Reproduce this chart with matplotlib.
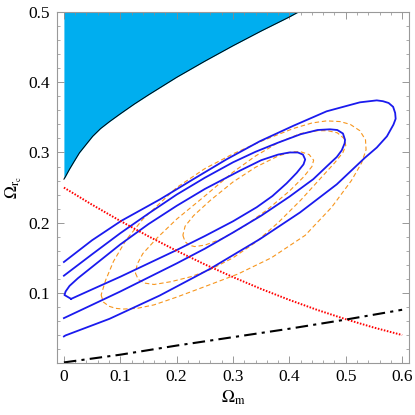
import numpy as np
import matplotlib
matplotlib.use("Agg")
import matplotlib.pyplot as plt
from matplotlib.ticker import MultipleLocator

plt.rcParams["font.family"] = ["Liberation Serif", "DejaVu Serif"]
plt.rcParams["mathtext.fontset"] = "stix"

# excluded region (upper left), boundary
excl_x = [0.0, 0.003, 0.0098, 0.018, 0.0276, 0.04, 0.051, 0.065, 0.081, 0.1, 0.125, 0.15, 0.2, 0.25,
          0.3, 0.35, 0.4, 0.416]
excl_y = [0.262, 0.266, 0.276, 0.287, 0.2996, 0.312, 0.323, 0.334, 0.344, 0.355, 0.369, 0.382, 0.407, 0.430,
          0.452, 0.473, 0.493, 0.500]

# solid blue confidence contours (outer, middle, inner)
c1_x = [0.0, 0.0027, 0.0809, 0.1698, 0.2587, 0.3476, 0.4187, 0.484, 0.534, 0.555, 0.573, 0.5846, 0.5885,
        0.5876, 0.584, 0.576, 0.566, 0.555, 0.525, 0.466, 0.407, 0.3476, 0.288, 0.229, 0.170, 0.1017, 0.05, 0.0]
c1_y = [0.038, 0.0394, 0.0631, 0.0962, 0.134, 0.1766, 0.2145, 0.2546, 0.2925, 0.307, 0.323, 0.3397, 0.348,
        0.3563, 0.365, 0.3705, 0.373, 0.3742, 0.3714, 0.3586, 0.338, 0.316, 0.290, 0.2617, 0.233, 0.2026, 0.175, 0.144]

c2_x = [0.0, 0.05, 0.1, 0.15, 0.2, 0.25, 0.3, 0.35, 0.4, 0.4424, 0.47, 0.484, 0.4928, 0.498, 0.4987,
        0.495, 0.485, 0.472, 0.45, 0.42, 0.38, 0.34, 0.3, 0.25, 0.2, 0.15, 0.1, 0.05, 0.0]
c2_y = [0.0641, 0.083, 0.102, 0.122, 0.142, 0.163, 0.186, 0.21, 0.237, 0.262, 0.283, 0.2935, 0.303, 0.313, 0.318,
        0.327, 0.332, 0.333, 0.332, 0.326, 0.314, 0.301, 0.286, 0.264, 0.240, 0.213, 0.185, 0.155, 0.1245]

c3_x = [0.0128, 0.05, 0.1, 0.15, 0.2, 0.25, 0.3, 0.342, 0.37, 0.395, 0.413, 0.425, 0.428, 0.424, 0.415,
        0.4, 0.38, 0.35, 0.312, 0.25, 0.2, 0.15, 0.1, 0.05, 0.025, 0.01, 0.003, 0.001, 0.0128]
c3_y = [0.0915, 0.105, 0.123, 0.142, 0.161, 0.181, 0.202, 0.222, 0.238, 0.256, 0.271, 0.283, 0.29, 0.297, 0.3,
        0.3, 0.297, 0.289, 0.274, 0.248, 0.224, 0.198, 0.169, 0.137, 0.121, 0.11, 0.102, 0.097, 0.0915]

# dashed orange contours (outer, middle, inner)
e1_x = [0.066, 0.07, 0.08, 0.092, 0.105, 0.13, 0.16, 0.2, 0.25, 0.309, 0.368, 0.428, 0.475, 0.51, 0.528,
        0.536, 0.535, 0.525, 0.508, 0.49, 0.466, 0.44, 0.4066, 0.35, 0.3, 0.25, 0.2, 0.14, 0.11, 0.088,
        0.074, 0.066]
e1_y = [0.097, 0.087, 0.081, 0.078, 0.077, 0.078, 0.083, 0.094, 0.109, 0.127, 0.150, 0.182, 0.222, 0.26, 0.285,
        0.304, 0.318, 0.331, 0.34, 0.344, 0.345, 0.342, 0.334, 0.316, 0.298, 0.277, 0.25, 0.205, 0.175, 0.145,
        0.118, 0.097]

e2_x = [0.127, 0.132, 0.143, 0.16, 0.19, 0.225, 0.259, 0.3, 0.34, 0.38, 0.42, 0.455, 0.48, 0.495, 0.5,
        0.497, 0.485, 0.468, 0.45, 0.42, 0.38, 0.34, 0.3, 0.253, 0.2, 0.165, 0.14, 0.13, 0.127]
e2_y = [0.128, 0.119, 0.114, 0.112, 0.116, 0.123, 0.133, 0.15, 0.172, 0.2, 0.232, 0.263, 0.285, 0.3, 0.31,
        0.32, 0.328, 0.331, 0.331, 0.327, 0.314, 0.295, 0.272, 0.24, 0.205, 0.178, 0.156, 0.141, 0.128]

e3_x = [0.211, 0.215, 0.222, 0.232, 0.25, 0.28, 0.32, 0.36, 0.4, 0.425, 0.44, 0.443, 0.435, 0.42, 0.405,
        0.38, 0.34, 0.3, 0.26, 0.23, 0.215, 0.211]
e3_y = [0.182, 0.173, 0.168, 0.166, 0.168, 0.177, 0.195, 0.218, 0.245, 0.265, 0.28, 0.289, 0.297, 0.301, 0.301,
        0.295, 0.279, 0.258, 0.232, 0.21, 0.195, 0.182]

# red dotted curve
red_x = [0.0, 0.05, 0.1, 0.15, 0.2, 0.25, 0.3, 0.35, 0.4, 0.45, 0.5, 0.55, 0.6]
red_y = [0.25, 0.2256, 0.2025, 0.1806, 0.16, 0.1406, 0.1225, 0.1056, 0.09, 0.0756, 0.0625, 0.0506, 0.04]

# black dash-dot line
blk_x = [0.0, 0.1, 0.2, 0.3, 0.4, 0.5, 0.6]
blk_y = [0.001, 0.012, 0.025, 0.037, 0.049, 0.062, 0.076]

fig = plt.figure(figsize=(4.15, 4.15), dpi=100)
ax = fig.add_axes([0.137, 0.125, 0.849, 0.846])

ax.fill_between(excl_x, excl_y, 0.5, color="#00aeef", lw=0)
ax.plot(excl_x, excl_y, color="black", lw=0.7)

for cx, cy in [(e1_x, e1_y), (e2_x, e2_y), (e3_x, e3_y)]:
    ax.plot(cx, cy, color="#f7961e", lw=0.8, ls=(0, (4, 2.5)))
for cx, cy in [(c1_x, c1_y), (c2_x, c2_y), (c3_x, c3_y)]:
    ax.plot(cx, cy, color="#1a1aee", lw=1.3, solid_joinstyle="round")

ax.plot(red_x, red_y, color="red", lw=1.4, ls=(0, (0.8, 0.8)))
ax.plot(blk_x, blk_y, color="black", lw=1.5, ls=(0, (6, 2.5, 1.5, 2.5)))

ax.set_xlim(-0.0125, 0.6125)
ax.set_ylim(0.0, 0.5)
ax.xaxis.set_minor_locator(MultipleLocator(0.02))
ax.yaxis.set_minor_locator(MultipleLocator(0.02))
ax.set_xticks([0, 0.1, 0.2, 0.3, 0.4, 0.5, 0.6])
ax.set_xticklabels(["0", "0.1", "0.2", "0.3", "0.4", "0.5", "0.6"])
ax.set_yticks([0.1, 0.2, 0.3, 0.4, 0.5])
ax.set_yticklabels(["0.1", "0.2", "0.3", "0.4", "0.5"])
ax.tick_params(which="both", direction="in", top=True, right=True, color="#888888",
               labelsize=12.5)
ax.tick_params(axis="x", which="major", pad=4)
ax.tick_params(axis="y", which="major", pad=5)
ax.tick_params(which="major", length=5, width=0.6)
ax.tick_params(which="minor", length=2.5, width=0.5)
for s in ax.spines.values():
    s.set_color("#999999")
    s.set_linewidth(0.8)

ax.set_xlabel(r"$\Omega_{\rm m}$", fontsize=12.5, labelpad=2.5)
ax.set_ylabel(r"$\Omega_{{\rm r}_{\rm c}}$", fontsize=12.5, labelpad=3)

fig.savefig("out.png", dpi=100, facecolor="white")
